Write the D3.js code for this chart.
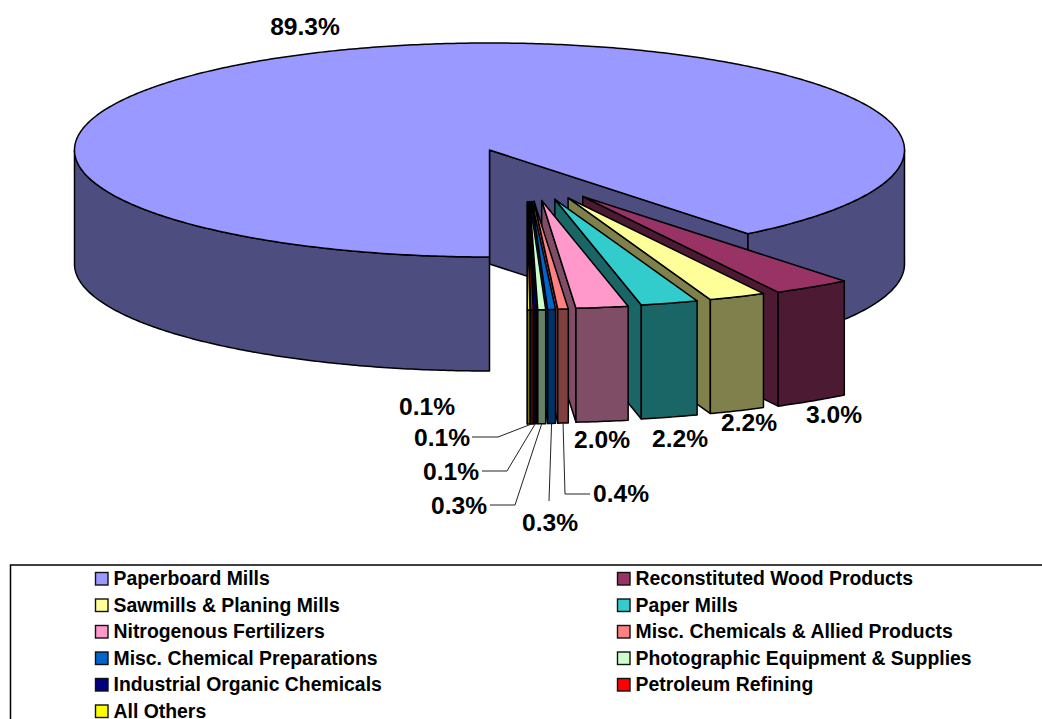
<!DOCTYPE html>
<html lang="en">
  <head>
    <meta charset="utf-8">
    <title>Shares by industry</title>
    <script src="https://d3js.org/d3.v7.min.js"></script>
    <style>
      body { margin: 0; background: #fff; }
      svg { display: block; }
      text { font-family: "Liberation Sans", Arial, sans-serif; font-weight: bold; fill: #000; }
    </style>
  </head>
  <body>
    <script type="text/javascript">

      var w = 1042;
      var h = 719;

      var categories = ["Paperboard Mills", "Reconstituted Wood Products", "Sawmills & Planing Mills",
                        "Paper Mills", "Nitrogenous Fertilizers", "Misc. Chemicals & Allied Products",
                        "Misc. Chemical Preparations", "Photographic Equipment & Supplies",
                        "Industrial Organic Chemicals", "Petroleum Refining", "All Others"];
      var shares = [89.3, 3.0, 2.2, 2.2, 2.0, 0.4, 0.3, 0.3, 0.1, 0.1, 0.1];
      var colors = ["#9999ff", "#993366", "#ffff99", "#33cccc", "#ff99cc", "#ff8080",
                    "#0066cc", "#ccffcc", "#000080", "#ff0000", "#ffff00"];

      // label centres, same order as categories
      var labelX = [305, 834, 749, 680, 602, 621, 550, 459, 451, 442, 427];
      var labelY = [26, 414, 422, 438, 439, 493, 522, 505, 471, 437, 406];

      // leader lines: [start x, elbow x] for the thin slices, null = no leader
      var leaders = [null, null, null, null, null, [590, 565], [549, 549], [490, 515], [482, 507], [472, 498], null];

      var cx = 489.5, cy = 150, depth = 114;
      var mainR = {x: 415, y: 107};
      var sliceR = {x: 420, y: 108};

      var svg = d3.select("body")
                  .append("svg")
                  .attr("width", w)
                  .attr("height", h);

      var pie = d3.pie()
                  .sort(null)
                  .startAngle(Math.PI)
                  .endAngle(3 * Math.PI);
      var arcs = pie(shares);

      var line = d3.line();

      function rimPoint(o, r, a) {
        return [o[0] + r.x * Math.sin(a), o[1] - r.y * Math.cos(a)];
      }

      function rimPoints(o, r, a0, a1) {
        var n = Math.max(2, Math.ceil(Math.abs(a1 - a0) / 0.01));
        return d3.range(n + 1).map(function(i) {
          return rimPoint(o, r, a0 + (a1 - a0) * i / n);
        });
      }

      function drop(p) { return [p[0], p[1] + depth]; }

      function shade(c) {
        var q = d3.rgb(c);
        return d3.rgb(q.r * 0.5, q.g * 0.5, q.b * 0.5).formatHex();
      }

      function poly(points, fill) {
        svg.append("path")
           .attr("d", line(points) + "Z")
           .attr("fill", fill)
           .attr("stroke", "#000")
           .attr("stroke-width", 1.5)
           .attr("stroke-linejoin", "round");
      }

      // outer wall, only the part of the rim that faces the viewer
      function wall(o, r, a0, a1, fill) {
        [[Math.PI / 2, 3 * Math.PI / 2], [5 * Math.PI / 2, 7 * Math.PI / 2]].forEach(function(f) {
          var s = Math.max(a0, f[0]), e = Math.min(a1, f[1]);
          if (e <= s) return;
          var top = rimPoints(o, r, s, e);
          poly(top.concat(top.slice().reverse().map(drop)), fill);
        });
      }

      function cutFace(o, r, a, fill) {
        var p = rimPoint(o, r, a);
        poly([o, p, drop(p), drop(o)], fill);
      }

      function topFace(o, r, a0, a1, fill) {
        poly([o].concat(rimPoints(o, r, a0, a1)), fill);
      }

      // the big slice stays in place
      var main = arcs[0], centre = [cx, cy];
      cutFace(centre, mainR, main.endAngle, shade(colors[0]));
      wall(centre, mainR, main.startAngle, main.endAngle, shade(colors[0]));
      topFace(centre, mainR, main.startAngle, main.endAngle, colors[0]);

      // the rest are pulled out, drawn from the back one forward
      function apexOf(d) {
        var s = Math.sin((d.startAngle + d.endAngle) / 2);
        return [cx + 37.5 + 102 * s, cy + 52 - 10 * s];
      }

      arcs.slice(1).forEach(function(d) {
        var o = apexOf(d), c = colors[d.index];
        cutFace(o, sliceR, d.endAngle, shade(c));
        wall(o, sliceR, d.startAngle, d.endAngle, shade(c));
        topFace(o, sliceR, d.startAngle, d.endAngle, c);
      });

      // leaders run from the label to the bottom of the slice's wall
      arcs.forEach(function(d) {
        var l = leaders[d.index];
        if (!l) return;
        var o = apexOf(d);
        var end = drop(rimPoint(o, sliceR, (d.startAngle + d.endAngle) / 2));
        var yy = d.index == 6 ? labelY[d.index] - 21 : labelY[d.index] + (d.index == 5 ? 1 : 0);
        var pts = d.index == 6 ? [[l[0], yy], end] : [[l[0], yy], [l[1], yy], end];
        svg.append("path")
           .attr("d", line(pts))
           .attr("fill", "none")
           .attr("stroke", "#222")
           .attr("stroke-width", 1);
      });

      svg.selectAll("text.pct")
         .data(shares)
         .enter()
         .append("text")
         .attr("class", "pct")
         .attr("x", (d, i) => labelX[i])
         .attr("y", (d, i) => labelY[i])
         .attr("dy", "0.36em")
         .attr("text-anchor", "middle")
         .style("font-size", "24.6px")
         .text(d => d3.format(".1f")(d) + "%");

      // legend, filled across then down; the box runs past the page edge
      svg.append("rect")
         .attr("x", 10.5)
         .attr("y", 565)
         .attr("width", 1100)
         .attr("height", 220)
         .attr("fill", "#fff")
         .attr("stroke", "#000")
         .attr("stroke-width", 1.5);

      var legendX = d3.scaleOrdinal().domain([0, 1]).range([95, 617]);
      var legendY = d3.scaleLinear().domain([0, 5]).range([578.5, 711]);

      var entry = svg.selectAll("g.entry")
                     .data(categories)
                     .enter()
                     .append("g")
                     .attr("class", "entry")
                     .attr("transform", (d, i) => "translate(" + legendX(i % 2) + "," + legendY(Math.floor(i / 2)) + ")");

      entry.append("rect")
           .attr("x", 0.5)
           .attr("y", -6)
           .attr("width", 12.5)
           .attr("height", 12.5)
           .attr("fill", (d, i) => colors[i])
           .attr("stroke", "#111")
           .attr("stroke-width", 1.4);

      entry.append("text")
           .attr("x", 18.5)
           .attr("dy", "0.34em")
           .style("font-size", "19.4px")
           .text(d => d);

    </script>
  </body>
</html>
